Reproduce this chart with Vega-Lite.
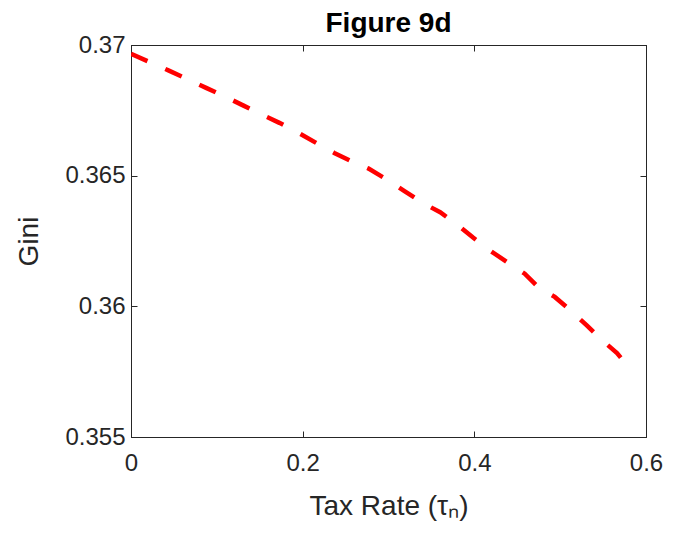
{
  "$schema": "https://vega.github.io/schema/vega-lite/v6.json",
  "width": 515,
  "height": 392,
  "autosize": {"type": "none"},
  "padding": {"left": 131, "top": 45, "right": 33, "bottom": 96},
  "background": "white",
  "title": {"text": "Figure 9d", "font": "Liberation Sans", "fontSize": 28, "fontWeight": "bold", "color": "#000000", "offset": 6, "dy": 11, "anchor": "middle"},
  "config": {
    "view": {"stroke": "#262626", "strokeWidth": 1},
    "axis": {
      "grid": false,
      "domainColor": "#262626",
      "domainWidth": 1,
      "tickColor": "#262626",
      "tickWidth": 1,
      "tickSize": -6,
      "labelFont": "Liberation Sans",
      "labelFontSize": 24,
      "labelColor": "#262626",
      "titleFont": "Liberation Sans",
      "titleFontSize": 28,
      "titleFontWeight": "normal",
      "titleColor": "#262626",
      "labelFlush": false,
      "labelOverlap": false
    }
  },
  "data": {"values": [
    {"t": 0.0, "g": 0.36966},
    {"t": 0.0213, "g": 0.36935},
    {"t": 0.0442, "g": 0.36902},
    {"t": 0.0654, "g": 0.3687},
    {"t": 0.0875, "g": 0.36836},
    {"t": 0.1087, "g": 0.36804},
    {"t": 0.1317, "g": 0.36767},
    {"t": 0.1509, "g": 0.36736},
    {"t": 0.1729, "g": 0.36702},
    {"t": 0.1946, "g": 0.36665},
    {"t": 0.2159, "g": 0.36625},
    {"t": 0.2368, "g": 0.36587},
    {"t": 0.2588, "g": 0.36552},
    {"t": 0.2768, "g": 0.36527},
    {"t": 0.2993, "g": 0.36483},
    {"t": 0.3186, "g": 0.36441},
    {"t": 0.3402, "g": 0.36395},
    {"t": 0.3602, "g": 0.3636},
    {"t": 0.3804, "g": 0.36312},
    {"t": 0.3985, "g": 0.36263},
    {"t": 0.4194, "g": 0.36211},
    {"t": 0.4378, "g": 0.3617},
    {"t": 0.4587, "g": 0.36125},
    {"t": 0.4748, "g": 0.36072},
    {"t": 0.4937, "g": 0.36036},
    {"t": 0.5109, "g": 0.35988},
    {"t": 0.531, "g": 0.35927},
    {"t": 0.5462, "g": 0.35878},
    {"t": 0.5662, "g": 0.35821},
    {"t": 0.5803, "g": 0.35766}
  ]},
  "layer": [
    {
      "mark": {"type": "line", "color": "#ff0000", "strokeWidth": 4.5, "strokeDash": [18, 19.5], "strokeCap": "butt", "clip": true},
      "encoding": {
        "x": {"field": "t", "type": "quantitative", "scale": {"domain": [0, 0.6], "nice": false, "zero": false},
              "axis": {"orient": "bottom", "values": [0, 0.2, 0.4, 0.6], "format": "~g", "labelPadding": 20, "title": "Tax Rate (τₙ)", "titleBaseline": "alphabetic", "titleY": 77}},
        "y": {"field": "g", "type": "quantitative", "scale": {"domain": [0.355, 0.37], "nice": false, "zero": false},
              "axis": {"orient": "left", "values": [0.355, 0.36, 0.365, 0.37], "format": "~g", "labelPadding": 12, "title": "Gini", "titleBaseline": "alphabetic", "titleX": -94}}
      }
    },
    {
      "mark": {"type": "line", "opacity": 0},
      "encoding": {
        "x": {"field": "t", "type": "quantitative", "axis": {"orient": "top", "values": [0, 0.2, 0.4, 0.6], "labels": false, "title": null}},
        "y": {"field": "g", "type": "quantitative", "axis": {"orient": "right", "values": [0.355, 0.36, 0.365, 0.37], "labels": false, "title": null}}
      }
    }
  ],
  "resolve": {"axis": {"x": "independent", "y": "independent"}}
}
